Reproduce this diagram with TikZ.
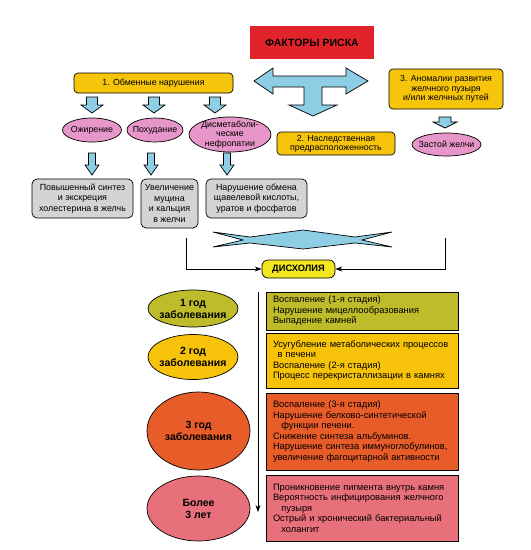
\documentclass[tikz,border=0pt]{standalone}
\usepackage{fontspec}
\setmainfont{Liberation Sans}
\usetikzlibrary{positioning,shapes,arrows.meta}
\definecolor{riskred}{RGB}{226,35,42}
\definecolor{arrowblue}{RGB}{142,206,228}
\definecolor{factoryellow}{RGB}{246,196,10}
\definecolor{pinkell}{RGB}{230,150,200}
\definecolor{boxgray}{RGB}{212,212,212}
\definecolor{dysyellow}{RGB}{242,230,30}
\definecolor{olive}{RGB}{190,188,42}
\definecolor{gold}{RGB}{247,194,10}
\definecolor{orangered}{RGB}{232,92,42}
\definecolor{rose}{RGB}{232,112,122}

% block arrow pointing down: x, top, tip, half stem, half head, head length
\newcommand{\blockdown}[6]{%
  \draw[barrow] (#1-#4,#2) -- (#1+#4,#2) -- (#1+#4,#3-#6) -- (#1+#5,#3-#6)
    -- (#1,#3) -- (#1-#5,#3-#6) -- (#1-#4,#3-#6) -- cycle;}

\begin{document}
\begin{tikzpicture}[x=1pt,y=-1pt,line width=0.7pt,
  every node/.style={font=\fontsize{8.8}{9.2}\selectfont},
  factor/.style={draw,rounded corners=4pt,fill=factoryellow,align=center,inner sep=0pt},
  cause/.style={ellipse,draw,fill=pinkell,align=center,inner sep=-6pt},
  result/.style={draw,rounded corners=5pt,fill=boxgray,align=center,inner sep=0pt,
    font=\fontsize{8.9}{10.5}\selectfont},
  year/.style={ellipse,draw,align=center,inner sep=-5pt,minimum width=90,
    font=\fontsize{10.5}{12}\selectfont\bfseries},
  stage/.style={draw,align=left,text width=178,inner xsep=7pt,inner ysep=0pt,
    font=\fontsize{9.3}{10.5}\selectfont},
  barrow/.style={draw=black,fill=arrowblue,line join=miter},
  link/.style={-{Stealth[length=7pt,width=5pt]}}
]
\useasboundingbox[fill=white] (0,0) rectangle (531,550);

% the risk factors
\node[fill=riskred,minimum width=124,minimum height=33,inner sep=0pt,
  font=\fontsize{10.5}{11}\selectfont\bfseries] (risk) at (312,42.5) {ФАКТОРЫ РИСКА};
\draw[barrow] (254,81) -- (273,68) -- (273,76) -- (346,76) -- (346,68) -- (368,81)
  -- (346,94) -- (346,87) -- (322,87) -- (322,105) -- (337,105) -- (313,116)
  -- (289,105) -- (304,105) -- (304,87) -- (273,87) -- (273,94) -- cycle;

\node[factor,minimum width=159,minimum height=20] (metab) at (153.5,83) {1. Обменные нарушения};
\node[factor,minimum width=118,minimum height=23] (hered) at (336,143.5) {2. Наследственная\\предрасположенность};
\node[factor,minimum width=114,minimum height=40] (anom) at (446,89) {3. Аномалии развития\\желчного пузыря\\и/или желчных путей};

% the causes
\node[cause,minimum width=59,minimum height=24] (obes) at (92,130) {Ожирение};
\node[cause,minimum width=56,minimum height=24] (loss) at (155,130) {Похудание};
\node[cause,minimum width=82,minimum height=35] (nephro) at (230,134.5) {Дисметаболи-\\ческие\\нефропатии};
\node[cause,minimum width=69,minimum height=23] (stasis) at (446.5,144.5) {Застой желчи};

\blockdown{92}{97}{113}{5.5}{11}{8}
\blockdown{154}{97}{113}{5.5}{11}{8}
\blockdown{215}{97}{113}{5.5}{11}{8}
\blockdown{445}{117}{128}{6}{12}{6}

% the results
\node[result,minimum width=101,minimum height=39] (chol) at (82.5,198.5) {Повышенный синтез\\и экскреция\\холестерина в желчь};
\node[result,minimum width=57,minimum height=49] (mucin) at (169.5,203.5) {Увеличение\\муцина\\и кальция\\в желчи};
\node[result,minimum width=101,minimum height=39] (oxal) at (256.5,198.5) {Нарушение обмена\\щавелевой кислоты,\\уратов и фосфатов};

\blockdown{92}{153}{175}{3.5}{7}{10}
\blockdown{151}{153}{175}{3.5}{7}{10}
\blockdown{227}{153}{175}{3.5}{7}{10}

% the dyscholia
\draw[barrow] (213,232) -- (250,237) -- (303,230) -- (355,237) -- (392,232) -- (362,240)
  -- (392,247) -- (355,243) -- (303,249) -- (250,243) -- (213,247) -- (243,240) -- cycle;
\node[draw,fill=dysyellow,rounded corners=6pt,minimum width=73,minimum height=18,inner sep=0pt,
  font=\fontsize{9.3}{10}\selectfont\bfseries] (dys) at (298.5,269) {ДИСХОЛИЯ};
\coordinate (lfrom) at (186,238);
\coordinate (rfrom) at (445,238);
\draw[link] (lfrom) |- (dys.west);
\draw[link] (rfrom) |- (dys.east);

% the years
\node[year,fill=olive,minimum height=37] (y1) at (193,308.5) {1 год\\заболевания};
\node[year,fill=gold,minimum height=45] (y2) at (193,357) {2 год\\заболевания};
\node[year,fill=orangered,minimum width=103,minimum height=78] (y3) at (198.5,431) {3 год\\заболевания};
\node[year,fill=rose,minimum width=103,minimum height=65] (y4) at (198.5,508.5) {Более\\3 лет};

\node[stage,fill=olive,minimum height=38] (s1) at (362,311) {Воспаление (1-я стадия)\\Нарушение мицеллообразования\\Выпадение камней};
\node[stage,fill=gold,minimum height=55] (s2) at (362,360.5) {Усугубление метаболических процессов\\\hspace*{0.5em}в печени\\Воспаление (2-я стадия)\\Процесс перекристаллизации в камнях};
\node[stage,fill=orangered,minimum height=77] (s3) at (362,431.5) {Воспаление (3-я стадия)\\Нарушение белково-синтетической\\\hspace*{0.9em}функции печени.\\Снижение синтеза альбуминов.\\Нарушение синтеза иммуноглобулинов,\\увеличение фагоцитарной активности};
\node[stage,fill=rose,minimum height=66] (s4) at (362,508) {Проникновение пигмента внутрь камня\\Вероятность инфицирования желчного\\\hspace*{0.9em}пузыря\\Острый и хронический бактериальный\\\hspace*{0.9em}холангит};

% the time line
\coordinate (tstart) at (258,292);
\coordinate (tend) at (258,512);
\draw[link] (tstart) -- (tend);
\end{tikzpicture}
\end{document}
